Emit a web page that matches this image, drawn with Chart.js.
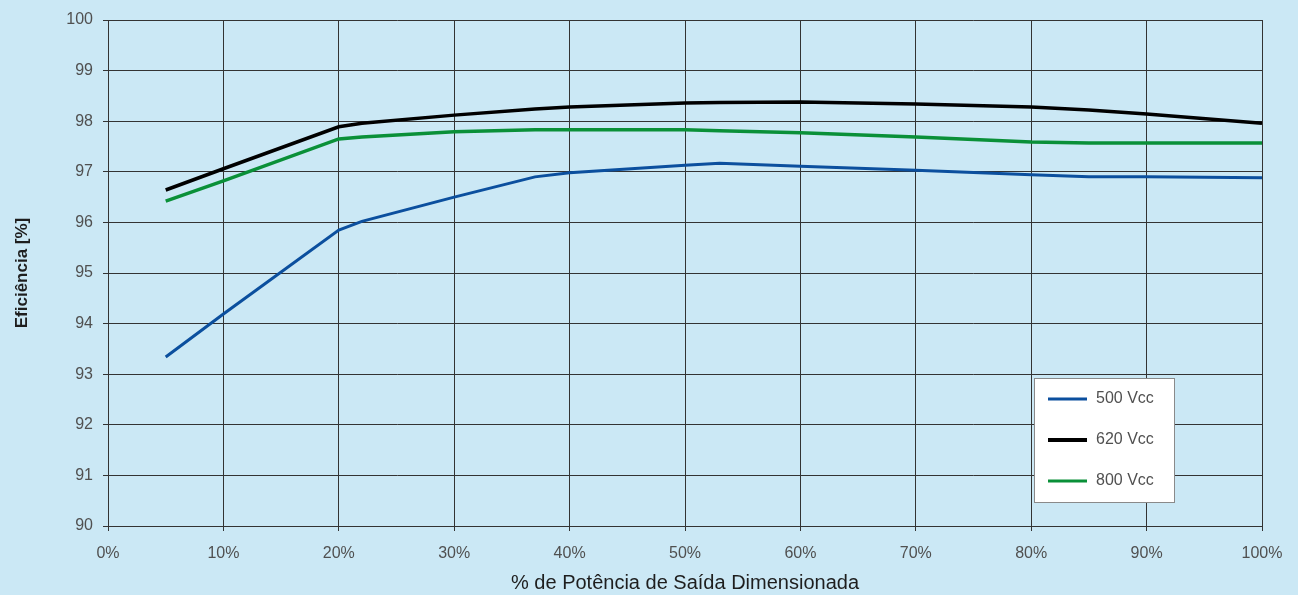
<!DOCTYPE html>
<html>
<head>
<meta charset="utf-8">
<script src="https://cdn.jsdelivr.net/npm/chart.js@4/dist/chart.umd.min.js"></script>
<style>
  html, body { margin: 0; padding: 0; background: #cbe8f5; }
  #wrap { width: 1298px; height: 595px; }
</style>
</head>
<body>
<div id="wrap"><canvas id="chart" width="1298" height="595"></canvas></div>
<script>
// % of rated output power
const potencia = [5, 10, 20, 22, 30, 37, 40, 50, 53, 60, 70, 80, 85, 90, 100];
// efficiency [%] per DC voltage
const vcc500 = [93.34, 94.19, 95.85, 96.02, 96.5, 96.9, 96.98, 97.13, 97.17, 97.11, 97.03, 96.94, 96.9, 96.9, 96.88];
const vcc620 = [96.64, 97.06, 97.89, 97.96, 98.12, 98.24, 98.28, 98.36, 98.37, 98.38, 98.34, 98.28, 98.22, 98.14, 97.96];
const vcc800 = [96.42, 96.82, 97.65, 97.69, 97.79, 97.83, 97.83, 97.83, 97.81, 97.77, 97.69, 97.59, 97.57, 97.57, 97.57];
const seriesNames = ["500 Vcc", "620 Vcc", "800 Vcc"];
const seriesColors = ["#0b4f9e", "#000000", "#0a9038"];

const toPoints = (vals) => potencia.map((p, i) => ({ x: p, y: vals[i] }));
const fontFam = "'Liberation Sans', Arial, sans-serif";

// legend drawn inside the plot, lower right
const boxLegend = {
  id: "boxLegend",
  afterDraw(chart) {
    const ctx = chart.ctx;
    const a = chart.chartArea;
    const x0 = a.right - 228, y0 = a.bottom - 148, w = 140, h = 124;
    ctx.save();
    ctx.fillStyle = "#ffffff";
    ctx.fillRect(x0, y0, w, h);
    ctx.strokeStyle = "#8a8a8a";
    ctx.lineWidth = 1;
    ctx.strokeRect(x0 + 0.5, y0 + 0.5, w, h);
    ctx.font = "16px " + fontFam;
    ctx.textBaseline = "middle";
    const rows = [21, 62, 103];
    seriesNames.forEach((name, i) => {
      const y = y0 + rows[i];
      ctx.strokeStyle = seriesColors[i];
      ctx.lineWidth = i === 1 ? 4 : 3;
      ctx.beginPath();
      ctx.moveTo(x0 + 14, y);
      ctx.lineTo(x0 + 53, y);
      ctx.stroke();
      ctx.fillStyle = "#505050";
      ctx.fillText(name, x0 + 62, y);
    });
    ctx.restore();
  }
};

const datasets = [vcc500, vcc620, vcc800].map((vals, i) => ({
  label: seriesNames[i],
  data: toPoints(vals),
  borderColor: seriesColors[i],
  backgroundColor: seriesColors[i],
  borderWidth: i === 0 ? 3 : 3.5,
  pointRadius: 0,
  tension: 0,
  fill: false
}));

new Chart(document.getElementById("chart"), {
  type: "line",
  data: { datasets },
  plugins: [boxLegend],
  options: {
    responsive: false,
    animation: false,
    layout: { padding: { left: 0, right: 36, top: 20, bottom: 0 } },
    plugins: { legend: { display: false }, tooltip: { enabled: false } },
    scales: {
      x: {
        type: "linear",
        min: 0,
        max: 100,
        afterFit(scale) { scale.height = 69; },
        grid: { color: "#333", lineWidth: 1, tickLength: 5 },
        border: { color: "#333", width: 1 },
        ticks: {
          stepSize: 10,
          padding: 13,
          color: "#505050",
          font: { family: fontFam, size: 16 },
          callback: (v) => v + "%",
          maxRotation: 0
        },
        title: {
          display: true,
          text: "% de Potência de Saída Dimensionada",
          color: "#1e1e1e",
          font: { family: fontFam, size: 20 },
          padding: { top: 0, bottom: 0 }
        }
      },
      y: {
        min: 90,
        max: 100,
        afterFit(scale) { scale.width = 108; },
        grid: { color: "#333", lineWidth: 1, tickLength: 5 },
        border: { color: "#333", width: 1 },
        ticks: {
          stepSize: 1,
          padding: 10,
          color: "#505050",
          font: { family: fontFam, size: 16 }
        },
        title: {
          display: true,
          text: "Eficiência [%]",
          color: "#1e1e1e",
          font: { family: fontFam, size: 17, weight: "bold" },
          padding: { top: 12, bottom: 0 }
        }
      }
    }
  }
});
</script>
</body>
</html>
